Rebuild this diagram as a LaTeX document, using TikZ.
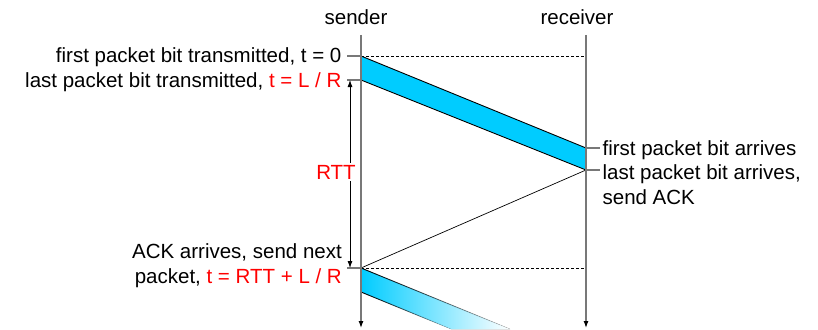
\documentclass[tikz,border=0pt]{standalone}
\usepackage{fontspec}
\setmainfont{Liberation Sans}
\usepackage{xcolor}
\usetikzlibrary{arrows.meta, fadings}
\definecolor{pktblue}{RGB}{0,204,255}
\definecolor{linegray}{RGB}{120,120,120}

\begin{document}
\begin{tikzpicture}[x=1pt, y=-1pt, font=\fontsize{20.5}{24.5}\selectfont,
			timeline/.style={draw=linegray, line width=1.2pt, -{Latex[color=black, length=7pt, width=5pt]}},
			tick/.style={draw=linegray, line width=1.2pt},
			lefttxt/.style={anchor=base east, inner sep=0pt, xshift=-5pt, yshift=-7pt, align=right},
			righttxt/.style={anchor=base west, inner sep=0pt, xshift=2pt, yshift=-7pt, align=left},
			edge/.style={draw=black, line width=0.9pt}]
			\useasboundingbox (0,0) rectangle (818,329);
			% time points on both lines
			\coordinate (stop) at (361,35);
			\coordinate (sbot) at (361,328);
			\coordinate (rtop) at (586,35);
			\coordinate (rbot) at (586,328);
			\coordinate (s0) at (361,56);
			\coordinate (s1) at (361,80);
			\coordinate (s2) at (361,268);
			\coordinate (s3) at (361,292);
			\coordinate (r0) at (586,148);
			\coordinate (r1) at (586,170);
			\coordinate (e0) at (510,329);
			\coordinate (e1) at (451,329);
			\node (snd) at (356,17) {sender};
			\node (rcv) at (577,17) {receiver};
			% first packet
			\fill[pktblue] (s0) -- (r0) -- (r1) -- (s1) -- cycle;
			\draw[edge] (s0) -- (r0);
			\draw[edge] (s1) -- (r1);
			% next packet, fading out
			\fill[left color=pktblue, right color=white] (s2) -- (e0) -- (e1) -- (s3) -- cycle;
			\draw[edge, path fading=east] (s2) -- (e0);
			\draw[edge, path fading=east] (s3) -- (e1);
			\draw[line width=0.7pt] (r1) -- (s2);
			\draw[dash pattern=on 3pt off 2pt, line width=0.7pt] (s0) -- (s0 -| rtop);
			\draw[dash pattern=on 3pt off 2pt, line width=0.7pt] (s2) -- (s2 -| rtop);
			\draw[timeline] (stop) -- (sbot);
			\draw[timeline] (rtop) -- (rbot);
			% ticks and labels
			\draw[tick] (s0) -- ++(-14,0) node[lefttxt] (l0) {first packet bit transmitted, t = 0};
			\draw[tick] (s1) -- ++(-14,0) node[lefttxt] (l1) {last packet bit transmitted, \textcolor{red}{t = L / R}};
			\draw[tick] (s2) -- ++(-14,0) coordinate (t2);
			\node[lefttxt, yshift=-8pt] (l2) at (t2) {ACK arrives, send next\\packet, \textcolor{red}{t = RTT + L / R}};
			\draw[tick] (r0) -- ++(14,0) node[righttxt] (l3) {first packet bit arrives};
			\draw[tick] (r1) -- ++(14,0) node[righttxt, yshift=-27pt] (l4) {last packet bit arrives,\\send ACK};
			% round trip
			\coordinate (a0) at (350,80);
			\coordinate (a1) at (350,268);
			\draw[{Latex[length=7pt, width=5pt]}-{Latex[length=7pt, width=5pt]}, line width=0.8pt] (a0) -- (a1)
				node[pos=0.49, fill=white, text=red, inner sep=2pt, xshift=-14pt] (rtt) {RTT};
		\end{tikzpicture}
\end{document}
